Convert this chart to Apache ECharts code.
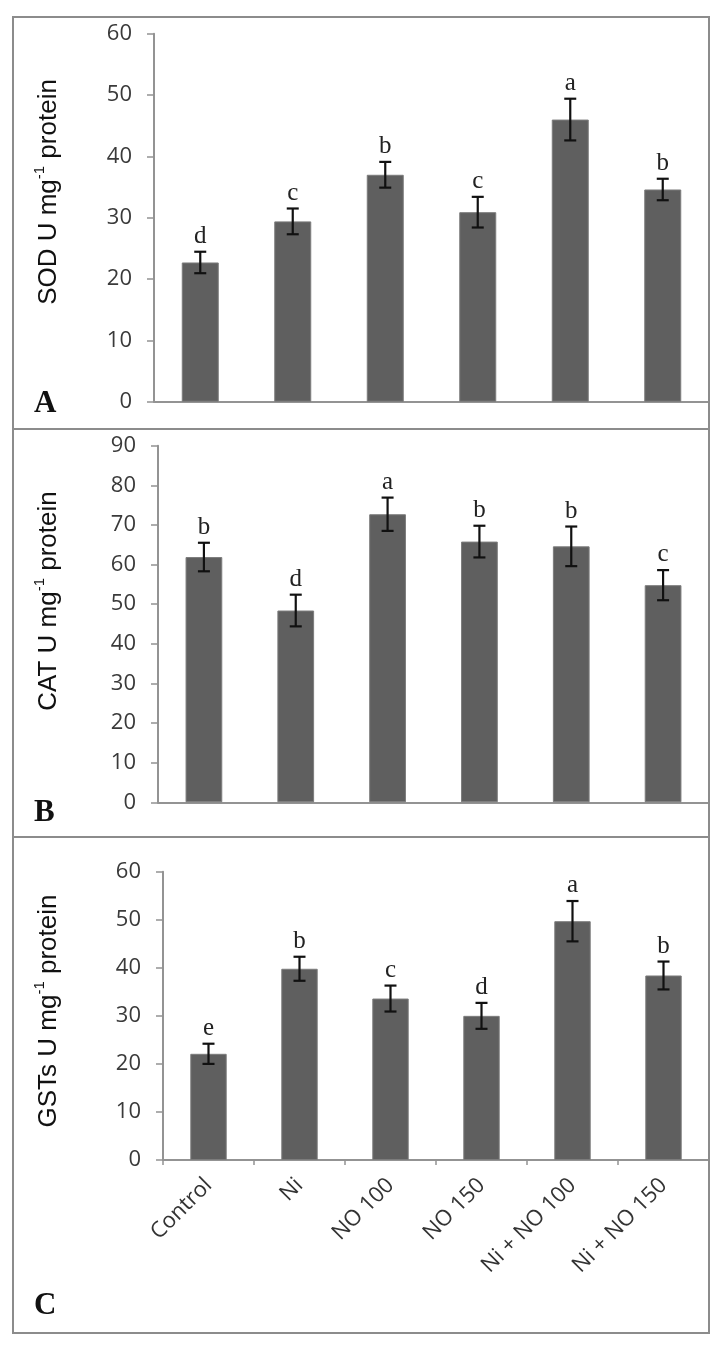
<!DOCTYPE html>
<html><head><meta charset="utf-8">
<script src="https://cdn.jsdelivr.net/npm/echarts@6/dist/echarts.min.js"></script>
<style>html,body{margin:0;padding:0;background:#fff}#c{width:724px;height:1345px}</style>
</head><body><div id="c"></div>
<script>
const categories = ['Control', 'Ni', 'NO 100', 'NO 150', 'Ni + NO 100', 'Ni + NO 150'];

const sodValues = [22.7, 29.4, 37.0, 30.9, 46.0, 34.6];
const sodErrors = [1.75, 2.1, 2.1, 2.5, 3.4, 1.75];
const sodLetters = ['d', 'c', 'b', 'c', 'a', 'b'];

const catValues = [61.9, 48.4, 72.7, 65.8, 64.6, 54.8];
const catErrors = [3.6, 4.0, 4.2, 4.0, 5.0, 3.8];
const catLetters = ['b', 'd', 'a', 'b', 'b', 'c'];

const gstValues = [22.1, 39.8, 33.6, 30.0, 49.7, 38.4];
const gstErrors = [2.1, 2.5, 2.7, 2.7, 4.2, 2.9];
const gstLetters = ['e', 'b', 'c', 'd', 'a', 'b'];

const sodTitle = ['SOD U mg', '-1', ' protein'];
const catTitle = ['CAT U mg', '-1', ' protein'];
const gstTitle = ['GSTs U mg', '-1', ' protein'];
const panelLetters = ['A', 'B', 'C'];
const yMax = [60, 90, 60];

const panels = [
  {grid: {left: 154, right: 15, top: 33.7, bottom: 943.3}, values: sodValues, errors: sodErrors, letters: sodLetters, title: sodTitle, titleY: 192, letterY: 404, box: [13, 17, 696, 412]},
  {grid: {left: 158, right: 15, top: 445.7, bottom: 542.7}, values: catValues, errors: catErrors, letters: catLetters, title: catTitle, titleY: 601, letterY: 813, box: [13, 429, 696, 408]},
  {grid: {left: 163, right: 15, top: 871.7, bottom: 185}, values: gstValues, errors: gstErrors, letters: gstLetters, title: gstTitle, titleY: 1011, letterY: 1306, box: [13, 837, 696, 496]}
];

const axisColor = '#939393';
const tickFont = 'Open Sans';

const option = {
  animation: false,
  backgroundColor: '#fff',
  grid: panels.map(p => p.grid),
  xAxis: panels.map((p, i) => ({
    type: 'category', gridIndex: i, data: categories,
    axisLine: {show: true, lineStyle: {color: axisColor, width: 2}},
    axisTick: {show: i === 2, length: 5, lineStyle: {color: axisColor, width: 1.5}},
    axisLabel: {show: i === 2, rotate: 45, fontFamily: tickFont, fontSize: 22, color: '#333', margin: 22, interval: 0},
    splitLine: {show: false}
  })),
  yAxis: panels.map((p, i) => ({
    type: 'value', gridIndex: i, min: 0, max: yMax[i], interval: 10,
    axisLine: {show: true, lineStyle: {color: axisColor, width: 2}},
    axisTick: {show: true, length: 7, lineStyle: {color: axisColor, width: 1.5}},
    axisLabel: {fontFamily: tickFont, fontSize: 22, color: '#3a3a3a', margin: 22},
    splitLine: {show: false}
  })),
  series: [],
  graphic: []
};

panels.forEach((p, i) => {
  option.series.push({
    type: 'bar', xAxisIndex: i, yAxisIndex: i, data: p.values, barWidth: '40%',
    itemStyle: {color: '#5f5f5f', borderColor: '#7c7c7c', borderWidth: 1}, z: 2
  });
  option.series.push({
    type: 'custom', xAxisIndex: i, yAxisIndex: i, z: 5,
    data: p.values.map((v, j) => [j, v - p.errors[j], v + p.errors[j]]),
    renderItem: function (params, api) {
      const x = api.value(0);
      const lo = api.coord([x, api.value(1)]);
      const hi = api.coord([x, api.value(2)]);
      const cap = 6;
      const st = {stroke: '#111', lineWidth: 2.2};
      return {type: 'group', children: [
        {type: 'line', shape: {x1: lo[0], y1: lo[1], x2: hi[0], y2: hi[1]}, style: st},
        {type: 'line', shape: {x1: hi[0] - cap, y1: hi[1], x2: hi[0] + cap, y2: hi[1]}, style: st},
        {type: 'line', shape: {x1: lo[0] - cap, y1: lo[1], x2: lo[0] + cap, y2: lo[1]}, style: st},
        {type: 'text', style: {text: p.letters[params.dataIndex], x: hi[0], y: hi[1] - 3,
          align: 'center', verticalAlign: 'bottom', fontFamily: 'Liberation Serif', fontSize: 25, fill: '#222'}}
      ]};
    }
  });
  option.graphic.push({
    type: 'rect', shape: {x: p.box[0], y: p.box[1], width: p.box[2], height: p.box[3]},
    style: {fill: 'none', stroke: '#8c8c8c', lineWidth: 2}, z: 10
  });
  option.graphic.push({
    type: 'text', x: 47, y: p.titleY, rotation: Math.PI / 2,
    style: {
      text: '{a|' + p.title[0] + '}{s|' + p.title[1] + '}{a|' + p.title[2] + '}',
      align: 'center', verticalAlign: 'middle',
      rich: {
        a: {fontFamily: 'Liberation Sans', fontSize: 26, fill: '#111', lineHeight: 30, verticalAlign: 'bottom'},
        s: {fontFamily: 'Liberation Sans', fontSize: 15, fill: '#111', lineHeight: 30, verticalAlign: 'top', padding: [0, 0, 12, 0]}
      }
    }
  });
  option.graphic.push({
    type: 'text', x: 34, y: p.letterY,
    style: {text: panelLetters[i], fontFamily: 'Liberation Serif', fontWeight: 'bold', fontSize: 31, fill: '#111', align: 'left', verticalAlign: 'middle'}
  });
});

const chart = echarts.init(document.getElementById('c'));
chart.setOption(option);
</script>
</body></html>
